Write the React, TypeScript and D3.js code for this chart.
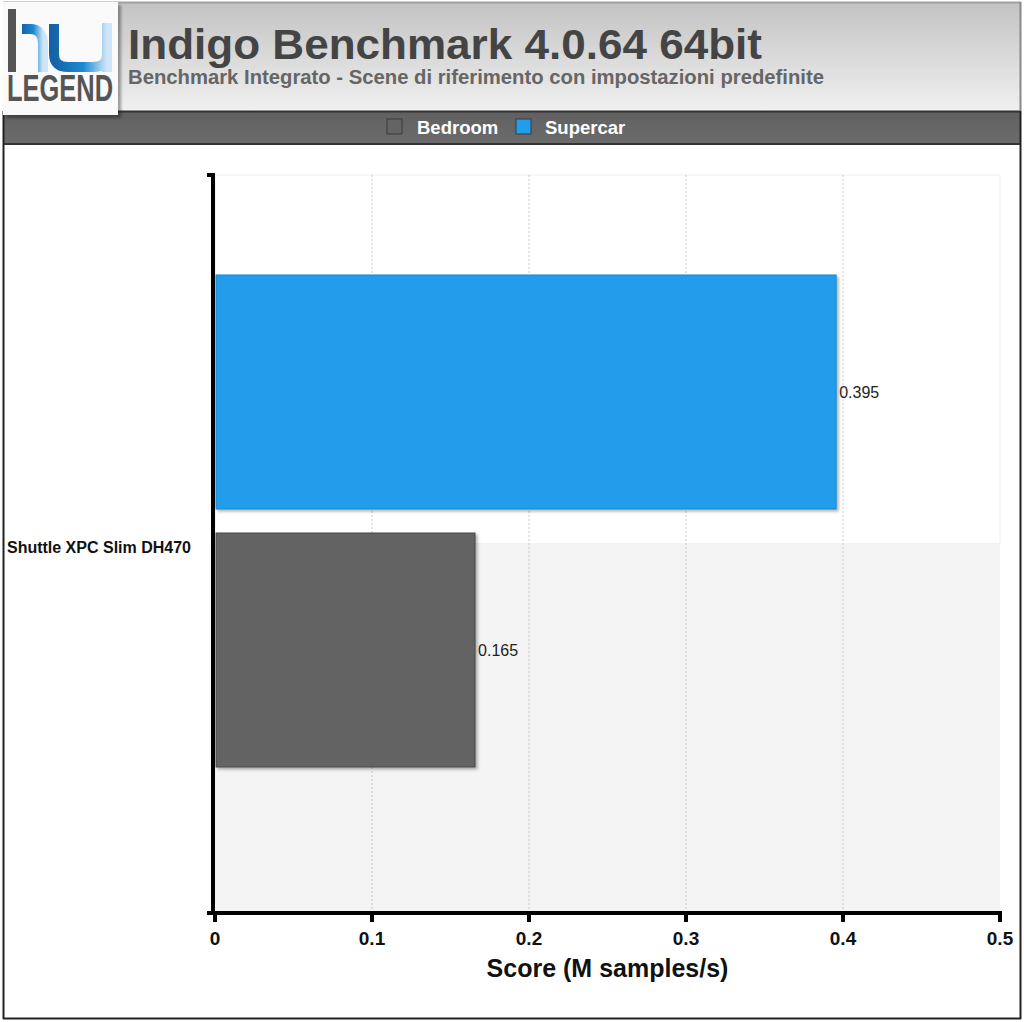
import React from "react";
import * as d3 from "d3";

const title = "Indigo Benchmark 4.0.64 64bit";
const subtitle = "Benchmark Integrato - Scene di riferimento con impostazioni predefinite";
const categories = ["Shuttle XPC Slim DH470"];
const seriesNames = ["Bedroom", "Supercar"];
const seriesColors = ["#646464", "#219dec"];
const seriesStroke = ["#4a4a4a", "#1a86d0"];
const bedroomValues = [0.165];
const supercarValues = [0.395];
const xTicks = [0, 0.1, 0.2, 0.3, 0.4, 0.5];
const xTitle = "Score (M samples/s)";

const W = 1024;
const H = 1022;
const FONT = "'Liberation Sans', Arial, Helvetica, sans-serif";

export default function App() {
  const plotL = 215, plotR = 1000, plotT = 175, plotB = 912;
  const x = d3.scaleLinear().domain([0, 0.5]).range([plotL, plotR]);
  const yCat = d3.scaleBand().domain(categories).range([plotT, plotB]);
  const order = ["Supercar", "Bedroom"];
  const ySeries = d3.scaleBand().domain(order).range([275, 767]).paddingInner(0.093);
  const valuesFor = (s: string) => (s === "Bedroom" ? bedroomValues : supercarValues);
  const idx = (s: string) => seriesNames.indexOf(s);
  const midY = (plotT + plotB) / 2;

  const legendItems = [
    { name: "Bedroom", sx: 387, tx: 417 },
    { name: "Supercar", sx: 516, tx: 545 },
  ];

  return (
    <svg width={W} height={H} style={{ position: "absolute", left: 0, top: 0 }} fontFamily={FONT}>
      <defs>
        <linearGradient id="hdr" x1="0" y1="0" x2="0" y2="1">
          <stop offset="0" stopColor="#c3c3c3" />
          <stop offset="1" stopColor="#f0f0f0" />
        </linearGradient>
        <linearGradient id="lg" x1="0" y1="0" x2="0" y2="1">
          <stop offset="0" stopColor="#606060" />
          <stop offset="1" stopColor="#6c6c6c" />
        </linearGradient>
        <linearGradient id="logoBlue" x1="0" y1="0" x2="1" y2="0">
          <stop offset="0" stopColor="#1563a6" />
          <stop offset="0.55" stopColor="#1e8ad2" />
          <stop offset="1" stopColor="#cfe6f8" />
        </linearGradient>
        <filter id="shadow" x="-10%" y="-10%" width="130%" height="130%">
          <feDropShadow dx="3" dy="3" stdDeviation="1.5" floodColor="#000" floodOpacity="0.35" />
        </filter>
        <filter id="barShadow" x="-5%" y="-5%" width="115%" height="115%">
          <feDropShadow dx="2" dy="2" stdDeviation="1.5" floodColor="#000" floodOpacity="0.3" />
        </filter>
      </defs>

      <rect x={0} y={0} width={W} height={H} fill="#fff" />

      {/* header */}
      <rect x={3} y={2} width={1018} height={109} fill="url(#hdr)" />
      <line x1={3} y1={2.5} x2={1021} y2={2.5} stroke="#a0a0a0" strokeWidth={2} />
      {/* legend bar */}
      <rect x={3} y={111} width={1018} height={34} fill="url(#lg)" />
      <line x1={3} y1={111.5} x2={1021} y2={111.5} stroke="#333" strokeWidth={2} />
      <line x1={3} y1={144} x2={1021} y2={144} stroke="#333" strokeWidth={2} />

      {/* outer frame */}
      <line x1={3.5} y1={111} x2={3.5} y2={1019} stroke="#222" strokeWidth={2} />
      <line x1={3} y1={1018.5} x2={1021} y2={1018.5} stroke="#222" strokeWidth={2} />
      <line x1={1020.5} y1={2} x2={1020.5} y2={111} stroke="#888" strokeWidth={2} />
      <line x1={1020.5} y1={111} x2={1020.5} y2={1019} stroke="#222" strokeWidth={2} />

      {/* logo */}
      <rect x={3} y={2} width={115} height={113} fill="#fafafa" filter="url(#shadow)" />
      <rect x={8} y={9} width={8} height={63} fill="#555" />
      <path d="M22,29 L30,29 Q43,29 43,44 L43,72" fill="none" stroke="url(#logoBlue)" strokeWidth={10} />
      <path d="M54,24 L54,54 Q54,67 68,67 L93,67 Q107,67 107,54 L107,23 M107,50 L107,72" fill="none" stroke="url(#logoBlue)" strokeWidth={10} />
      <text x={7} y={101} fontSize={36} fontWeight="bold" fill="#555" textLength={106} lengthAdjust="spacingAndGlyphs">LEGEND</text>

      {/* titles */}
      <text x={128} y={59} fontSize={43} fontWeight="bold" fill="#444" textLength={634} lengthAdjust="spacingAndGlyphs">{title}</text>
      <text x={128} y={84} fontSize={19.5} fontWeight="bold" fill="#666" textLength={696} lengthAdjust="spacingAndGlyphs">{subtitle}</text>

      {/* legend */}
      {legendItems.map((it) => (
        <g key={it.name}>
          <rect x={it.sx} y={119} width={15} height={15} fill={seriesColors[idx(it.name)]} stroke="#3a3a3a" strokeWidth={1} />
          <text x={it.tx} y={134} fontSize={18.5} fontWeight="bold" fill="#fff">{it.name}</text>
        </g>
      ))}

      {/* plot background */}
      <rect x={plotL} y={plotT} width={plotR - plotL} height={midY - plotT} fill="#fff" stroke="#f0f0f0" />
      <rect x={plotL} y={midY} width={plotR - plotL} height={plotB - midY} fill="#f4f4f4" />

      {/* grid */}
      {xTicks.slice(1, -1).map((t) => (
        <line key={t} x1={x(t)} x2={x(t)} y1={plotT} y2={plotB} stroke="#c8c8c8" strokeWidth={1} strokeDasharray="2,2" />
      ))}

      {/* bars */}
      {categories.map((c, ci) =>
        order.map((s) => {
          const v = valuesFor(s)[ci];
          const y0 = ySeries(s)!;
          const bw = ySeries.bandwidth();
          return (
            <g key={c + s}>
              <rect x={x(0) + 1} y={y0} width={x(v) - x(0)} height={bw} fill={seriesColors[idx(s)]} stroke={seriesStroke[idx(s)]} strokeWidth={1} filter="url(#barShadow)" />
              <text x={x(v) + 4} y={y0 + bw / 2 + 6} fontSize={16} fill="#222">{v.toFixed(3)}</text>
            </g>
          );
        })
      )}

      {/* axes */}
      <line x1={213} y1={plotT - 2} x2={213} y2={plotB + 2} stroke="#000" strokeWidth={4} />
      <line x1={207} y1={plotT} x2={215} y2={plotT} stroke="#000" strokeWidth={4} />
      <line x1={207} y1={plotB + 1} x2={plotR + 2} y2={plotB + 1} stroke="#000" strokeWidth={4} />
      {xTicks.map((t) => (
        <g key={t}>
          <line x1={x(t)} x2={x(t)} y1={plotB} y2={plotB + 10} stroke="#000" strokeWidth={4} />
          <text x={x(t)} y={945} fontSize={19} fontWeight="bold" textAnchor="middle" fill="#111">{t === 0 ? "0" : String(t)}</text>
        </g>
      ))}
      <text x={(plotL + plotR) / 2} y={977} fontSize={25} fontWeight="bold" textAnchor="middle" fill="#111">{xTitle}</text>

      {/* category labels */}
      {categories.map((c) => (
        <text key={c} x={191} y={yCat(c)! + yCat.bandwidth() / 2 + 9} fontSize={16} fontWeight="bold" textAnchor="end" fill="#111">{c}</text>
      ))}
    </svg>
  );
}
